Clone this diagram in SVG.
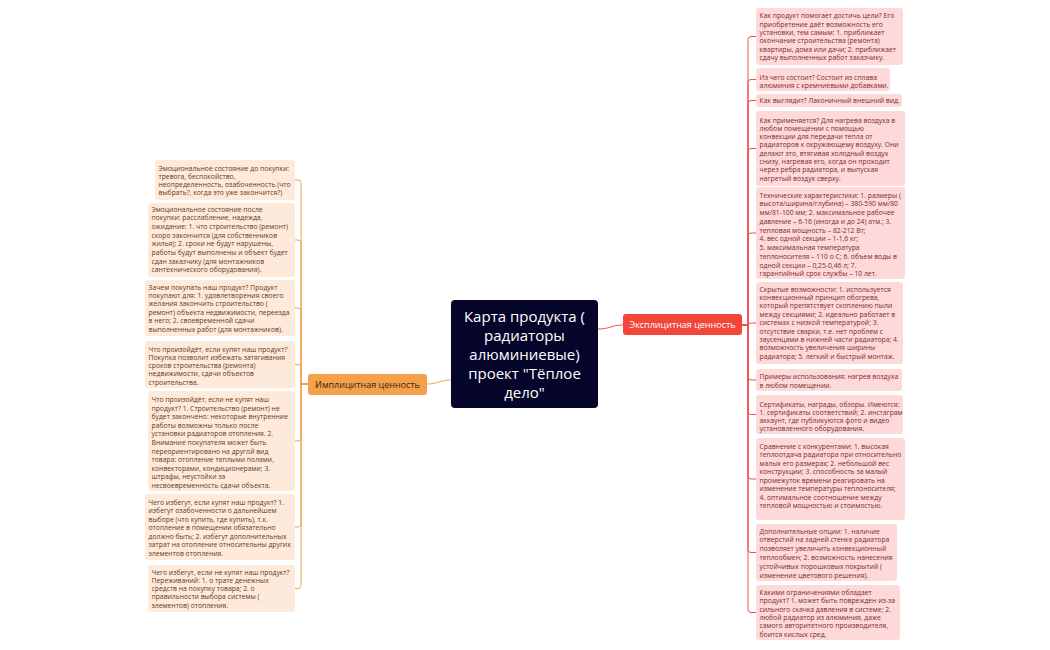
<svg xmlns="http://www.w3.org/2000/svg" width="1050" height="650" viewBox="0 0 1050 650">
<style>
text{font-family:"Open Sans","Noto Sans","DejaVu Sans",sans-serif}
.rb{fill:#fed9d9}
.lb{fill:#feeadb}
.rt{font-size:6.8px;fill:#7c2b2b}
.lt{font-size:6.8px;fill:#5e3b1c}
.rc{fill:none;stroke:#f0504a;stroke-width:1}
.lc{fill:none;stroke:#f4a04a;stroke-width:1}
.ct{font-size:15px;fill:#ffffff;text-anchor:middle}
</style>
<rect width="1050" height="650" fill="#ffffff"/>
<g id="connectors">
<path class="rc" d="M598,329 C610,329 612,325 623,325"/>
<path class="lc" d="M451,380 C440,380 438,384 427,384"/>
<path class="rc" d="M742,325 H748 V39.5 Q748,36.5 751,36.5 H756"/>
<path class="rc" d="M742,325 H748 V82.5 Q748,79.5 751,79.5 H756"/>
<path class="rc" d="M742,325 H748 V103.5 Q748,100.5 751,100.5 H756"/>
<path class="rc" d="M742,325 H748 V151.5 Q748,148.5 751,148.5 H756"/>
<path class="rc" d="M742,325 H748 V236 Q748,233 751,233 H756"/>
<path class="rc" d="M742,325 H748 V326 Q748,323 751,323 H756"/>
<path class="rc" d="M742,325 H748 V377 Q748,380 751,380 H756"/>
<path class="rc" d="M742,325 H748 V411.5 Q748,414.5 751,414.5 H756"/>
<path class="rc" d="M742,325 H748 V476 Q748,479 751,479 H756"/>
<path class="rc" d="M742,325 H748 V549.5 Q748,552.5 751,552.5 H756"/>
<path class="rc" d="M742,325 H748 V609.5 Q748,612.5 751,612.5 H756"/>
<path class="lc" d="M427,384 H301 V183 Q301,180 298,180 H295"/>
<path class="lc" d="M427,384 H301 V243 Q301,240 298,240 H295"/>
<path class="lc" d="M427,384 H301 V311 Q301,308 298,308 H295"/>
<path class="lc" d="M427,384 H301 V367.5 Q301,364.5 298,364.5 H295"/>
<path class="lc" d="M427,384 H301 V438 Q301,441 298,441 H295"/>
<path class="lc" d="M427,384 H301 V524 Q301,527 298,527 H295"/>
<path class="lc" d="M427,384 H301 V585.5 Q301,588.5 298,588.5 H295"/>
</g>
<g id="center">
<rect x="451" y="300" width="147" height="108" rx="4" fill="#05052a"/>
<text class="ct"><tspan x="524.5" y="322">Карта продукта (</tspan><tspan x="524.5" y="341">радиаторы</tspan><tspan x="524.5" y="360">алюминиевые)</tspan><tspan x="524.5" y="379">проект "Тёплое</tspan><tspan x="524.5" y="398">дело"</tspan></text>
</g>
<g id="explicit">
<rect x="623" y="314" width="119" height="21" rx="3" fill="#f2463b"/>
<text x="682.5" y="328.3" font-size="9px" fill="#ffffff" text-anchor="middle">Эксплицитная ценность</text>
</g>
<g id="implicit">
<rect x="308" y="374" width="119" height="21" rx="3" fill="#f5a04b"/>
<text x="367.5" y="387.8" font-size="9px" fill="#3b2613" text-anchor="middle">Имплицитная ценность</text>
</g>
<g id="r1">
<rect class="rb" x="756" y="8" width="147" height="57" rx="3"/>
<text class="rt"><tspan x="759.5" y="18.2">Как продукт помогает достичь цели? Его</tspan><tspan x="759.5" dy="8.33">приобретение даёт возможность его</tspan><tspan x="759.5" dy="8.33">установки, тем самым: 1. приближает</tspan><tspan x="759.5" dy="8.33">окончание строительства (ремонта)</tspan><tspan x="759.5" dy="8.33">квартиры, дома или дачи; 2. приближает</tspan><tspan x="759.5" dy="8.33">сдачу выполненных работ заказчику.</tspan></text>
</g>
<g id="r2">
<rect class="rb" x="756" y="68" width="134" height="23" rx="3"/>
<text class="rt"><tspan x="759.5" y="79.5">Из чего состоит? Состоит из сплава</tspan><tspan x="759.5" dy="8.33">алюминия с кремниевыми добавками.</tspan></text>
</g>
<g id="r3">
<rect class="rb" x="756" y="94" width="146" height="13" rx="3"/>
<text class="rt" x="759.5" y="103">Как выглядит? Лаконичный внешний вид.</text>
</g>
<g id="r4">
<rect class="rb" x="756" y="111" width="149" height="75" rx="3"/>
<text class="rt"><tspan x="759.5" y="122.5">Как применяется?  Для нагрева воздуха в</tspan><tspan x="759.5" dy="8.33">любом помещении с помощью</tspan><tspan x="759.5" dy="8.33">конвекции для передачи тепла от</tspan><tspan x="759.5" dy="8.33">радиаторов к окружающему воздуху. Они</tspan><tspan x="759.5" dy="8.33">делают это, втягивая холодный воздух</tspan><tspan x="759.5" dy="8.33">снизу, нагревая его, когда он проходит</tspan><tspan x="759.5" dy="8.33">через ребра радиатора, и выпуская</tspan><tspan x="759.5" dy="8.33">нагретый воздух сверху.</tspan></text>
</g>
<g id="r5">
<rect class="rb" x="756" y="187" width="149" height="92" rx="3"/>
<text class="rt"><tspan x="759.5" y="197.5">Технические характеристики: 1. размеры (</tspan><tspan x="759.5" dy="8.75">высота/ширина/глубина) – 380-590 мм/80</tspan><tspan x="759.5" dy="8.75">мм/81-100 мм; 2. максимальное рабочее</tspan><tspan x="759.5" dy="8.75">давление – 6-16 (иногда и до 24) атм.; 3.</tspan><tspan x="759.5" dy="8.75">тепловая мощность – 82-212 Вт;</tspan><tspan x="759.5" dy="8.75">4. вес одной секции – 1-1,6 кг;</tspan><tspan x="759.5" dy="8.75">5. максимальная температура</tspan><tspan x="759.5" dy="8.75">теплоносителя – 110 о С; 6. объем воды в</tspan><tspan x="759.5" dy="8.75">одной секции – 0,25-0,46 л; 7.</tspan><tspan x="759.5" dy="8.75">гарантийный срок службы – 10 лет.</tspan></text>
</g>
<g id="r6">
<rect class="rb" x="756" y="282" width="147" height="82" rx="3"/>
<text class="rt"><tspan x="759.5" y="291.8">Скрытые возможности: 1. используется</tspan><tspan x="759.5" dy="8.34">конвекционный принцип обогрева,</tspan><tspan x="759.5" dy="8.34">который препятствует скоплению пыли</tspan><tspan x="759.5" dy="8.34">между секциями; 2. идеально работает в</tspan><tspan x="759.5" dy="8.34">системах с низкой температурой; 3.</tspan><tspan x="759.5" dy="8.34">отсутствие сварки, т.е. нет проблем с</tspan><tspan x="759.5" dy="8.34">заусенцами в нижней части радиатора; 4.</tspan><tspan x="759.5" dy="8.34">возможность увеличения ширины</tspan><tspan x="759.5" dy="8.34">радиатора; 5. легкий и быстрый монтаж.</tspan></text>
</g>
<g id="r7">
<rect class="rb" x="756" y="369" width="146" height="22" rx="3"/>
<text class="rt"><tspan x="759.5" y="379.2">Примеры использования: нагрев воздуха</tspan><tspan x="759.5" dy="8.6">в любом помещении.</tspan></text>
</g>
<g id="r8">
<rect class="rb" x="756" y="395" width="147" height="39" rx="3"/>
<text class="rt"><tspan x="759.5" y="406.5">Сертификаты, награды, обзоры. Имеются:</tspan><tspan x="759.5" dy="8.33">1. сертификаты соответствий; 2. инстаграм</tspan><tspan x="759.5" dy="8.33">аккаунт, где публикуются фото и видео</tspan><tspan x="759.5" dy="8.33">установленного оборудования.</tspan></text>
</g>
<g id="r9">
<rect class="rb" x="756" y="438" width="149" height="82" rx="3"/>
<text class="rt"><tspan x="759.5" y="448.5">Сравнение с конкурентами: 1. высокая</tspan><tspan x="759.5" dy="8.57">теплоотдача радиатора при относительно</tspan><tspan x="759.5" dy="8.57">малых его размерах; 2. небольшой вес</tspan><tspan x="759.5" dy="8.57">конструкции; 3. способность за малый</tspan><tspan x="759.5" dy="8.57">промежуток времени реагировать на</tspan><tspan x="759.5" dy="8.57">изменение температуры теплоносителя;</tspan><tspan x="759.5" dy="8.57">4. оптимальное соотношение между</tspan><tspan x="759.5" dy="8.57">тепловой мощностью и стоимостью.</tspan></text>
</g>
<g id="r10">
<rect class="rb" x="756" y="524" width="141" height="57" rx="3"/>
<text class="rt"><tspan x="759.5" y="533.5">Дополнительные опции: 1. наличие</tspan><tspan x="759.5" dy="8.8">отверстий на задней стенке радиатора</tspan><tspan x="759.5" dy="8.8">позволяет увеличить конвекционный</tspan><tspan x="759.5" dy="8.8">теплообмен; 2. возможность нанесения</tspan><tspan x="759.5" dy="8.8">устойчивых порошковых покрытий (</tspan><tspan x="759.5" dy="8.8">изменение цветового решения).</tspan></text>
</g>
<g id="r11">
<rect class="rb" x="756" y="585" width="144" height="55" rx="3"/>
<text class="rt"><tspan x="759.5" y="594.8">Какими ограничениями обладает</tspan><tspan x="759.5" dy="8.4">продукт? 1. может быть поврежден из-за</tspan><tspan x="759.5" dy="8.4">сильного скачка давления в системе; 2.</tspan><tspan x="759.5" dy="8.4">любой радиатор из алюминия, даже</tspan><tspan x="759.5" dy="8.4">самого авторитетного производителя,</tspan><tspan x="759.5" dy="8.4">боится кислых сред.</tspan></text>
</g>
<g id="l1">
<rect class="lb" x="155" y="160" width="140" height="40" rx="3"/>
<text class="lt"><tspan x="158.5" y="170.8">Эмоциональное состояние до покупки:</tspan><tspan x="158.5" dy="8.15">тревога, беспокойство,</tspan><tspan x="158.5" dy="8.15">неопределенность, озабоченность (что</tspan><tspan x="158.5" dy="8.15">выбрать?, когда это уже закончится?)</tspan></text>
</g>
<g id="l2">
<rect class="lb" x="148" y="203" width="147" height="74" rx="3"/>
<text class="lt"><tspan x="151.5" y="211.5">Эмоциональное состояние после</tspan><tspan x="151.5" dy="8.71">покупки: расслабление, надежда,</tspan><tspan x="151.5" dy="8.71">ожидание: 1. что строительство (ремонт)</tspan><tspan x="151.5" dy="8.71">скоро закончится (для собственников</tspan><tspan x="151.5" dy="8.71">жилья); 2. сроки не будут нарушены,</tspan><tspan x="151.5" dy="8.71">работы будут выполнены и объект будет</tspan><tspan x="151.5" dy="8.71">сдан заказчику (для монтажников</tspan><tspan x="151.5" dy="8.71">сантехнического оборудования).</tspan></text>
</g>
<g id="l3">
<rect class="lb" x="145" y="280" width="150" height="56" rx="3"/>
<text class="lt"><tspan x="148.5" y="289.8">Зачем покупать наш продукт? Продукт</tspan><tspan x="148.5" dy="8.34">покупают для: 1. удовлетворения своего</tspan><tspan x="148.5" dy="8.34">желания закончить строительство (</tspan><tspan x="148.5" dy="8.34">ремонт) объекта недвижимости, переезда</tspan><tspan x="148.5" dy="8.34">в него; 2. своевременной сдачи</tspan><tspan x="148.5" dy="8.34">выполненных работ (для монтажников).</tspan></text>
</g>
<g id="l4">
<rect class="lb" x="145" y="341" width="150" height="47" rx="3"/>
<text class="lt"><tspan x="148.5" y="351.5">Что произойдёт, если купят наш продукт?</tspan><tspan x="148.5" dy="8.33">Покупка позволит избежать затягивания</tspan><tspan x="148.5" dy="8.33">сроков строительства (ремонта)</tspan><tspan x="148.5" dy="8.33">недвижимости, сдачи объектов</tspan><tspan x="148.5" dy="8.33">строительства.</tspan></text>
</g>
<g id="l5">
<rect class="lb" x="148" y="391" width="147" height="100" rx="3"/>
<text class="lt"><tspan x="151.5" y="402.2">Что произойдёт, если не купят наш</tspan><tspan x="151.5" dy="8.56">продукт? 1. Строительство (ремонт) не</tspan><tspan x="151.5" dy="8.56">будет закончено: некоторые внутренние</tspan><tspan x="151.5" dy="8.56">работы возможны только после</tspan><tspan x="151.5" dy="8.56">установки радиаторов отопления. 2.</tspan><tspan x="151.5" dy="8.56">Внимание покупателя может быть</tspan><tspan x="151.5" dy="8.56">переориентировано на другой вид</tspan><tspan x="151.5" dy="8.56">товара: отопление теплыми полами,</tspan><tspan x="151.5" dy="8.56">конвекторами, кондиционерами; 3.</tspan><tspan x="151.5" dy="8.56">штрафы, неустойки за</tspan><tspan x="151.5" dy="8.56">несвоевременность сдачи объекта.</tspan></text>
</g>
<g id="l6">
<rect class="lb" x="145" y="494" width="150" height="66" rx="3"/>
<text class="lt"><tspan x="148.5" y="504.5">Чего избегут, если купят наш продукт? 1.</tspan><tspan x="148.5" dy="8.5">избегут озабоченности о дальнейшем</tspan><tspan x="148.5" dy="8.5">выборе (что купить, где купить), т.к.</tspan><tspan x="148.5" dy="8.5">отопление в помещении обязательно</tspan><tspan x="148.5" dy="8.5">должно быть; 2. избегут дополнительных</tspan><tspan x="148.5" dy="8.5">затрат на отопление относительны других</tspan><tspan x="148.5" dy="8.5">элементов отопления.</tspan></text>
</g>
<g id="l7">
<rect class="lb" x="148" y="565" width="147" height="47" rx="3"/>
<text class="lt"><tspan x="151.5" y="574.5">Чего избегут, если не купят наш продукт?</tspan><tspan x="151.5" dy="8.33">Переживаний: 1. о трате денежных</tspan><tspan x="151.5" dy="8.33">средств на покупку товара; 2. о</tspan><tspan x="151.5" dy="8.33">правильности выбора системы (</tspan><tspan x="151.5" dy="8.33">элементов) отопления.</tspan></text>
</g>
</svg>
